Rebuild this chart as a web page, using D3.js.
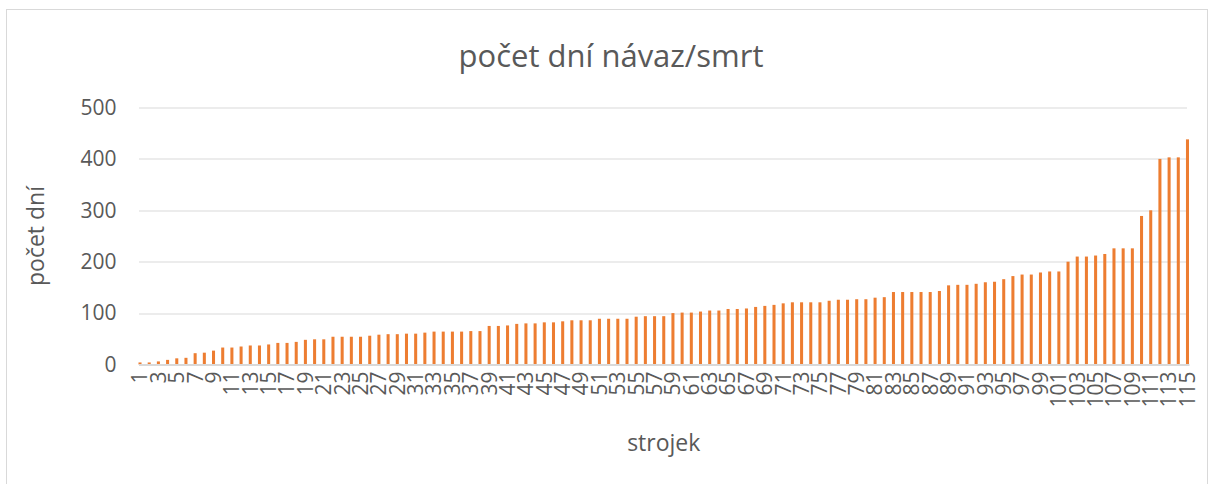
<!DOCTYPE html>
<html>
<head>
<meta charset="utf-8">
<script src="https://cdn.jsdelivr.net/npm/d3@7"></script>
<style>
  body { margin: 0; background: #fff; }
  text { font-family: "Open Sans", sans-serif; fill: #595959; }
</style>
</head>
<body>
<div id="chart-area"></div>
<script>
// pocet dni per strojek
var strojek = d3.range(1, 116);
var pocetDni = [
    4, 4, 6, 9, 12, 13, 22, 23, 27, 33,
    33, 35, 37, 37, 39, 42, 42, 44, 48, 49,
    49, 54, 54, 54, 54, 56, 58, 59, 59, 60,
    60, 62, 64, 64, 64, 64, 65, 65, 75, 75,
    76, 79, 80, 80, 82, 82, 84, 86, 86, 86,
    89, 89, 89, 89, 93, 94, 94, 94, 100, 101,
    101, 103, 105, 105, 108, 108, 109, 112, 114, 116,
    119, 121, 121, 121, 121, 124, 126, 126, 127, 127,
    130, 131, 141, 141, 141, 141, 141, 143, 154, 155,
    155, 157, 160, 161, 166, 172, 175, 175, 179, 181,
    181, 200, 210, 210, 212, 215, 226, 226, 226, 289,
    300, 400, 403, 403, 438
];
var yTicks = [0, 100, 200, 300, 400, 500];

var W = 1214, H = 484;
var margin = { top: 107.5, right: 25, bottom: 119.5, left: 138.5 };
var width = 1189 - margin.left;
var height = 364.5 - margin.top;

var svg = d3.select("#chart-area").append("svg")
    .attr("width", W)
    .attr("height", H);

// chart frame
svg.append("rect")
    .attr("x", 6.5).attr("y", 9.5)
    .attr("width", 1201).attr("height", 490)
    .attr("fill", "#fff")
    .attr("stroke", "#d9d9d9")
    .attr("stroke-width", 1);

var g = svg.append("g")
    .attr("transform", "translate(" + margin.left + "," + margin.top + ")");

var xScale = d3.scaleBand()
    .domain(strojek)
    .range([0, width])
    .paddingInner(0.67)
    .paddingOuter(0);

var yScale = d3.scaleLinear()
    .domain([0, 500])
    .range([height, 0]);

// gridlines
g.selectAll(".grid")
    .data(yTicks)
    .enter().append("line")
    .attr("class", "grid")
    .attr("x1", 0.5)
    .attr("x2", width - 2)
    .attr("y1", function (d) { return Math.round(yScale(d)) + 0.5; })
    .attr("y2", function (d) { return Math.round(yScale(d)) + 0.5; })
    .attr("stroke", "#d9d9d9")
    .attr("stroke-width", 1);

// y tick labels
var yAxis = g.append("g")
    .call(d3.axisLeft(yScale).tickValues(yTicks).tickSize(0).tickPadding(22));
yAxis.select(".domain").remove();
yAxis.selectAll("text")
    .style("font-size", "21px")
    .attr("fill", "#595959");

// bars
g.selectAll(".bar")
    .data(pocetDni)
    .enter().append("rect")
    .attr("class", "bar")
    .attr("x", function (d, i) { return xScale(strojek[i]); })
    .attr("width", xScale.bandwidth())
    .attr("y", function (d) { return yScale(d); })
    .attr("height", function (d) { return height - yScale(d); })
    .attr("fill", "#ed7d31");

// x axis line + labels (every second one)
var xAxis = g.append("g")
    .attr("transform", "translate(0," + height + ")")
    .call(d3.axisBottom(xScale)
        .tickValues(strojek.filter(function (d) { return d % 2 == 1; }))
        .tickSize(0));
xAxis.select(".domain")
    .attr("stroke", "#d9d9d9")
    .attr("stroke-width", 2);
xAxis.selectAll("text")
    .style("font-size", "21px")
    .attr("fill", "#595959")
    .attr("text-anchor", "end")
    .attr("transform", "rotate(-90)")
    .attr("x", -7)
    .attr("y", 0)
    .attr("dy", "0.35em");

// titles
svg.append("text")
    .attr("x", 611)
    .attr("y", 67)
    .attr("text-anchor", "middle")
    .style("font-size", "31px")
    .text("počet dní návaz/smrt");

svg.append("text")
    .attr("x", margin.left + width / 2)
    .attr("y", 451)
    .attr("text-anchor", "middle")
    .style("font-size", "23px")
    .text("strojek");

svg.append("text")
    .attr("transform", "translate(44," + (margin.top + height / 2) + ") rotate(-90)")
    .attr("text-anchor", "middle")
    .style("font-size", "23px")
    .text("počet dní");
</script>
</body>
</html>
